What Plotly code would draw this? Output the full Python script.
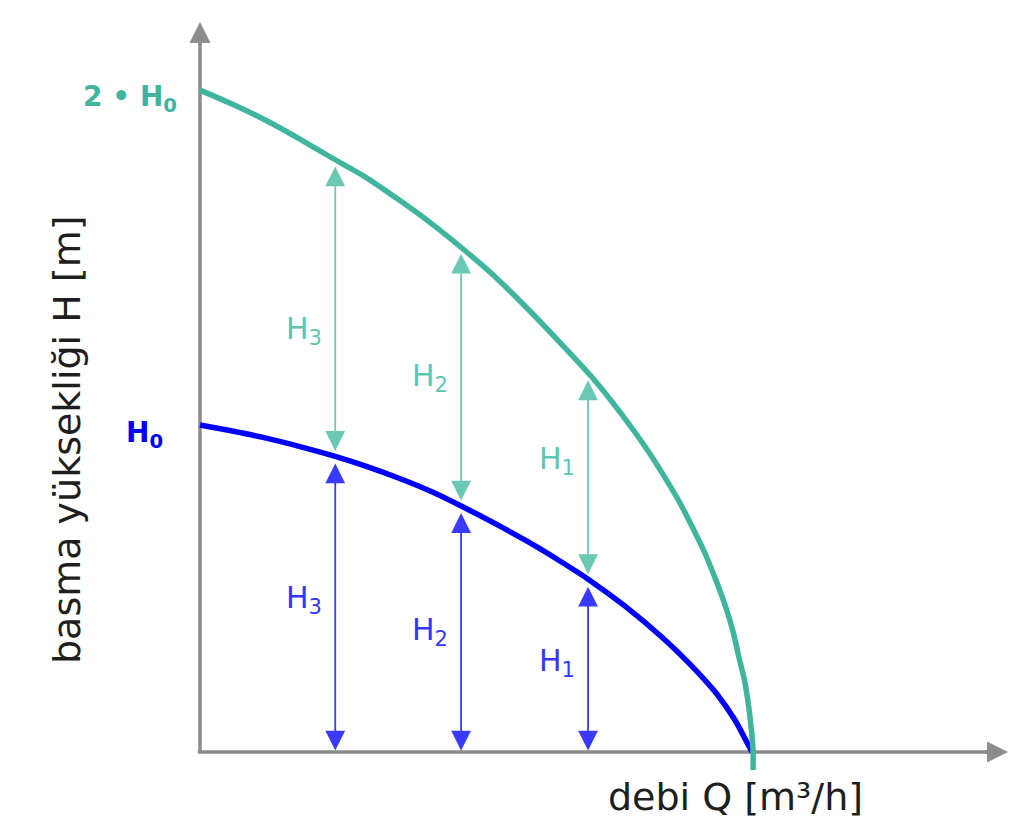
import plotly.graph_objects as go

# Q in % of Q0, H in % of H0
# Single pump curve
q_single = [0, 5.4, 11.4, 18.1, 24.5, 30.4, 36.4, 42.0, 47.6, 53.4, 59.4, 65.2, 70.7,
            77.0, 83.9, 88.8, 93.7, 96.9, 100]
h_single = [100, 98.3, 96.2, 93.4, 90.4, 87.2, 83.5, 79.6, 75.0, 69.9, 64.3, 58.4, 52.4,
            44.6, 34.8, 26.8, 17.6, 9.8, 0]

# Two pumps in series
q_series = [0, 6.0, 12.0, 18.1, 24.1, 29.9, 35.9, 41.7, 47.6, 53.1, 58.5, 64.5, 70.7,
            74.6, 78.4, 81.5, 84.6, 87.0, 89.3, 91.5, 93.7, 95.3, 96.6, 97.6, 98.6,
            99.4, 99.9, 100.2, 100.2]
h_series = [202.4, 198.0, 193.1, 187.4, 181.5, 175.9, 169.0, 161.9, 153.9, 145.9, 137.0,
            126.5, 115.2, 107.2, 98.7, 91.2, 82.9, 76.0, 68.4, 60.7, 51.5, 44.0, 36.6,
            29.2, 22.2, 13.9, 6.6, 0.2, -5.5]

# Operating points marked with vertical arrows
arrow_q = [24.5, 47.3, 70.3]
arrow_h_single = [90.4, 75.2, 52.7]
arrow_h_series = [181.2, 154.5, 115.8]
arrow_labels = ["H<sub>3</sub>", "H<sub>2</sub>", "H<sub>1</sub>"]
label_h_single = [46.5, 37.0, 27.5]
label_h_series = [129.0, 114.5, 89.0]

BLUE = "#0000ff"
TEAL = "#40b59e"
BLUE_A = "#3a3aff"
TEAL_A = "#6ac8b4"
GRAY = "#8c8c8c"
FONT = "DejaVu Sans"

# pixel scale: 5.52 px per % of Q0, 3.27 px per % of H0; origin at (200, 752)
XS, YS = 5.52, 3.27
X0, X1 = -200 / XS, 812 / XS
Y0, Y1 = (752 - 821) / YS, 752 / YS

fig = go.Figure()

# axes lines
fig.add_trace(go.Scatter(x=[0, 0], y=[0, 220], mode="lines",
                         line=dict(color=GRAY, width=3.5), hoverinfo="skip"))
fig.add_trace(go.Scatter(x=[-0.4, 143], y=[0, 0], mode="lines",
                         line=dict(color=GRAY, width=3.5), hoverinfo="skip"))

fig.add_trace(go.Scatter(x=q_single, y=h_single, mode="lines",
                         line=dict(color=BLUE, width=5.5, shape="spline", smoothing=0.6),
                         hoverinfo="skip"))
fig.add_trace(go.Scatter(x=q_series, y=h_series, mode="lines",
                         line=dict(color=TEAL, width=5.5, shape="spline", smoothing=0.6),
                         hoverinfo="skip"))

ann = []
# axis arrowheads
ann.append(dict(x=0, y=(752 - 22) / YS, ax=0, ay=25, xref="x", yref="y",
                showarrow=True, arrowhead=2, arrowsize=1.2, arrowwidth=3.5,
                arrowcolor=GRAY, text=""))
ann.append(dict(x=(1008 - 200) / XS, y=0, ax=-25, ay=0, xref="x", yref="y",
                showarrow=True, arrowhead=2, arrowsize=1.2, arrowwidth=3.5,
                arrowcolor=GRAY, text=""))

for q, hs, hd, lab, ls, ld in zip(arrow_q, arrow_h_single, arrow_h_series,
                                  arrow_labels, label_h_single, label_h_series):
    ann.append(dict(x=q, y=hs, ax=q, ay=0, xref="x", yref="y", axref="x", ayref="y",
                    showarrow=True, arrowhead=2, arrowside="end+start",
                    arrowsize=2.2, arrowwidth=1.8, arrowcolor=BLUE_A,
                    standoff=7, startstandoff=0, text=""))
    ann.append(dict(x=q, y=hd, ax=q, ay=hs, xref="x", yref="y", axref="x", ayref="y",
                    showarrow=True, arrowhead=2, arrowside="end+start",
                    arrowsize=2.2, arrowwidth=1.8, arrowcolor=TEAL_A,
                    standoff=7, startstandoff=4, text=""))
    ann.append(dict(x=q, y=ls, xref="x", yref="y", text=lab, showarrow=False,
                    xanchor="right", xshift=-11,
                    font=dict(family=FONT, size=30, color="#3535ff")))
    ann.append(dict(x=q, y=ld, xref="x", yref="y", text=lab, showarrow=False,
                    xanchor="right", xshift=-11,
                    font=dict(family=FONT, size=30, color="#5cc6b0")))

ann.append(dict(x=0, y=200, xref="x", yref="y", text="<b>2 • H<sub>0</sub></b>",
                showarrow=False, xanchor="right", xshift=-21,
                font=dict(family=FONT, size=28, color=TEAL)))
ann.append(dict(x=0, y=97, xref="x", yref="y", text="<b>H<sub>0</sub></b>",
                showarrow=False, xanchor="right", xshift=-35,
                font=dict(family=FONT, size=28, color=BLUE)))

ann.append(dict(x=(67 - 200) / XS, y=(752 - 440) / YS, xref="x", yref="y",
                text="basma yüksekliği H [m]", textangle=-90, showarrow=False,
                font=dict(family=FONT, size=38, color="#1e1e1e")))
ann.append(dict(x=(735 - 200) / XS, y=(752 - 797) / YS, xref="x", yref="y",
                text="debi Q [m³/h]", showarrow=False,
                font=dict(family=FONT, size=38, color="#1e1e1e")))

fig.update_layout(
    width=1012, height=821,
    margin=dict(l=0, r=0, t=0, b=0),
    paper_bgcolor="white", plot_bgcolor="white",
    showlegend=False,
    xaxis=dict(range=[X0, X1], visible=False, fixedrange=True),
    yaxis=dict(range=[Y0, Y1], visible=False, fixedrange=True),
    annotations=ann,
)

fig.write_html("out.html", config={"displayModeBar": False},
               post_script="document.body.style.margin='0';document.body.style.overflow='hidden';")
